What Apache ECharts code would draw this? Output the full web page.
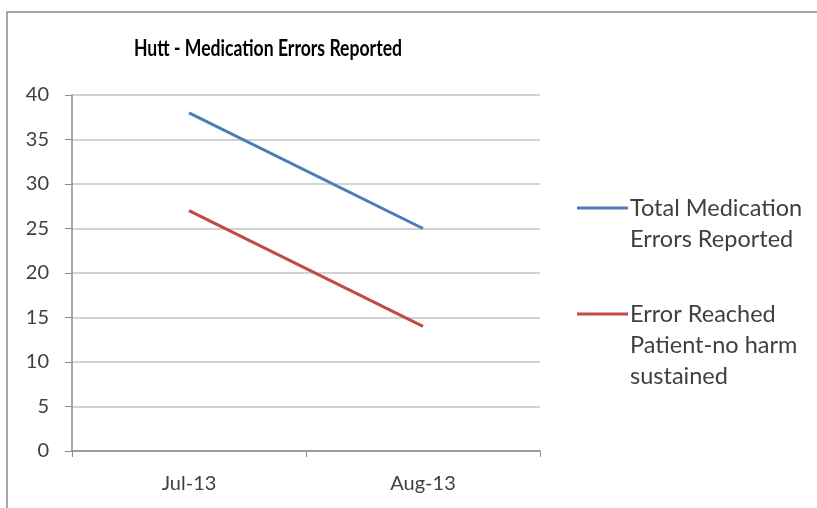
<!DOCTYPE html>
<html>
<head>
<meta charset="utf-8">
<script src="https://cdn.jsdelivr.net/npm/echarts@6/dist/echarts.min.js"></script>
<style>
html,body{margin:0;padding:0;background:#fff;}
#chart{width:817px;height:508px;}
</style>
</head>
<body>
<div id="chart"></div>
<script>
// Monthly medication error counts
const categories = ['Jul-13', 'Aug-13'];
const totalReported = [38, 25];
const reachedNoHarm = [27, 14];
const seriesNames = ['Total Medication\nErrors Reported', 'Error Reached\nPatient-no harm\nsustained'];
const seriesColors = ['#4a7ebb', '#be4b48'];
const yTicks = { min: 0, max: 40, interval: 5 };
const chartTitle = 'Hutt - Medication Errors Reported';

const FONT = 'Lato, "Open Sans", sans-serif';
const chart = echarts.init(document.getElementById('chart'), null, { renderer: 'canvas' });

// Legend drawn as line + wrapped label, icon aligned with the first text line
const legendRows = [208, 314];
const legendGraphics = [];
seriesNames.forEach((name, i) => {
  legendGraphics.push({
    type: 'line',
    shape: { x1: 577, y1: legendRows[i], x2: 628, y2: legendRows[i] },
    style: { stroke: seriesColors[i], lineWidth: 3 }
  });
  legendGraphics.push({
    type: 'text',
    x: 630,
    y: legendRows[i] - 15.5,
    style: {
      text: name,
      font: '23.5px ' + FONT,
      fill: '#404040',
      lineHeight: 31,
      textVerticalAlign: 'top'
    }
  });
});

chart.setOption({
  animation: false,
  backgroundColor: '#fff',
  grid: { left: 72, top: 95, right: 277, bottom: 57, containLabel: false },
  xAxis: {
    type: 'category',
    data: categories,
    boundaryGap: true,
    axisLine: { show: true, lineStyle: { color: '#8c8c8c', width: 1.5 } },
    axisTick: { show: true, length: 6, alignWithLabel: false, lineStyle: { color: '#8c8c8c' } },
    axisLabel: { fontFamily: FONT, fontSize: 20, color: '#404040', margin: 23 },
    splitLine: { show: false }
  },
  yAxis: {
    type: 'value',
    min: yTicks.min,
    max: yTicks.max,
    interval: yTicks.interval,
    axisLine: { show: true, lineStyle: { color: '#8c8c8c', width: 1.5 } },
    axisTick: { show: true, inside: false, length: 7, lineStyle: { color: '#8c8c8c' } },
    axisLabel: { fontFamily: FONT, fontSize: 20, color: '#404040', margin: 23 },
    splitLine: { show: true, lineStyle: { color: '#c4c4c4', width: 1.5 } }
  },
  series: [
    {
      name: seriesNames[0],
      type: 'line',
      data: totalReported,
      showSymbol: false,
      symbol: 'none',
      lineStyle: { color: seriesColors[0], width: 3 },
      itemStyle: { color: seriesColors[0] }
    },
    {
      name: seriesNames[1],
      type: 'line',
      data: reachedNoHarm,
      showSymbol: false,
      symbol: 'none',
      lineStyle: { color: seriesColors[1], width: 3 },
      itemStyle: { color: seriesColors[1] }
    }
  ],
  graphic: [
    {
      type: 'rect',
      shape: { x: 7, y: 12, width: 900, height: 600 },
      style: { fill: 'none', stroke: '#8a8a8a', lineWidth: 1.5 },
      silent: true
    },
    {
      type: 'text',
      x: 268,
      y: 49,
      scaleX: 0.8,
      style: {
        text: chartTitle,
        font: 'bold 22px ' + FONT,
        fill: '#000',
        textAlign: 'center',
        textVerticalAlign: 'middle'
      }
    }
  ].concat(legendGraphics)
});
</script>
</body>
</html>
